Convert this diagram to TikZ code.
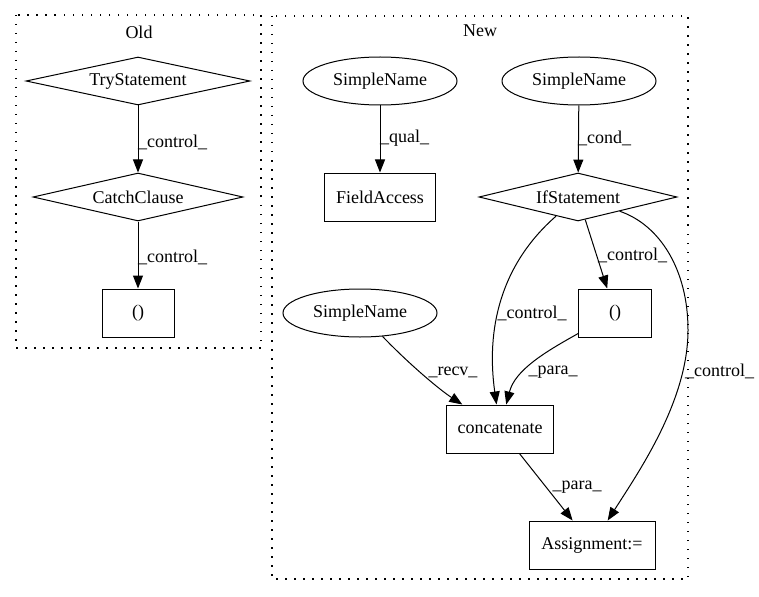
\documentclass[tikz,border=0pt]{standalone}
\usepackage{fontspec}
\setmainfont{Liberation Serif}
\usetikzlibrary{shapes.geometric,arrows.meta}
\begin{document}
\begin{tikzpicture}[x=1pt,y=-1pt,
  every node/.style={font=\fontsize{18}{21}\selectfont},
  base/.style={draw,line width=1pt,inner sep=0pt,minimum height=48pt},
  boxn/.style={base,rectangle},
  elln/.style={base,ellipse,minimum width=154pt},
  diam/.style={base,diamond},
  edge/.style={line width=1pt,-{Triangle[length=13pt,width=10pt]}},
  lbl/.style={inner sep=0pt},
  clus/.style={line width=1.2pt,dash pattern=on 1.5pt off 7.5pt}]
\useasboundingbox (0,0) rectangle (759,596);
% clusters
\draw[clus] (16,15) rectangle (261,348);
\draw[clus] (272,16) rectangle (688,579);
\node[lbl] (oldlbl) at (139,32) {Old};
\node[lbl] (newlbl) at (480,31) {New};
% Old nodes
\node[diam,minimum width=224pt,aspect=4.67] (try) at (138,81) {TryStatement};
\node[diam,minimum width=210pt,aspect=4.375] (catch) at (138,197) {CatchClause};
\node[boxn,minimum width=72pt] (p1) at (138,313) {()};
\draw[edge] (try) -- (catch);
\draw[edge] (catch) -- (p1);
\node[lbl,anchor=west] (l1) at (138,142) {\_control\_};
\node[lbl,anchor=west] (l2) at (138,257) {\_control\_};
% New nodes
\node[elln] (sn1) at (380,81) {SimpleName};
\node[elln] (sn2) at (579,81) {SimpleName};
\node[boxn,minimum width=111pt] (fa) at (380,197) {FieldAccess};
\node[diam,minimum width=198pt,aspect=4.125] (if) at (578,197) {IfStatement};
\node[elln] (sn3) at (360,313) {SimpleName};
\node[boxn,minimum width=73pt] (p2) at (615,313) {()};
\node[boxn,minimum width=107pt] (cc) at (500,429) {concatenate};
\node[boxn,minimum width=126pt] (asg) at (592,545) {Assignment:=};
% edges
\draw[edge] (sn1) -- (fa);
\draw[edge] (sn2) -- (if);
\draw[edge] (if) -- (p2);
\draw[edge] (if) .. controls (500,265) and (486,330) .. (cc);
\draw[edge] (if) .. controls (660,225) and (688,270) .. (688,330) .. controls (688,400) and (640,470) .. (asg);
\draw[edge] (p2) .. controls (545,352) and (515,370) .. (cc);
\draw[edge] (sn3) .. controls (410,365) and (440,390) .. (cc);
\draw[edge] (cc) -- (asg);
% labels
\node[lbl,anchor=west] (lq) at (380,138) {\_qual\_};
\node[lbl,anchor=west] (lc) at (578,138) {\_cond\_};
\node[lbl,anchor=west] (lc2) at (598,255) {\_control\_};
\node[lbl] (lc3) at (532,313) {\_control\_};
\node[lbl,anchor=west] (lc4) at (685,371) {\_control\_};
\node[lbl] (lr) at (453,372) {\_recv\_};
\node[lbl] (lp1) at (553,372) {\_para\_};
\node[lbl] (lp2) at (577,487) {\_para\_};
\end{tikzpicture}
\end{document}
